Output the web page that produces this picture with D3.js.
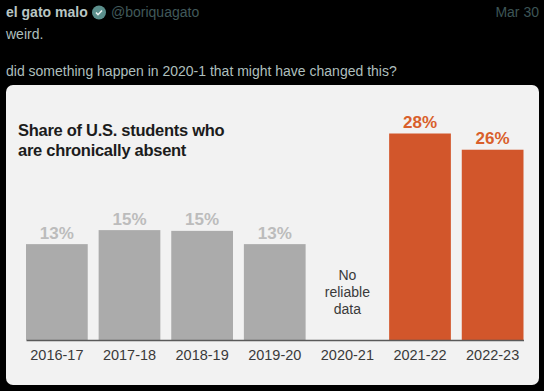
<!DOCTYPE html>
<html><head><meta charset="utf-8">
<script src="https://cdn.jsdelivr.net/npm/d3@7/dist/d3.min.js"></script>
<style>html,body{margin:0;padding:0;background:#000}svg{display:block}text{font-family:"Liberation Sans",Arial,sans-serif}</style>
</head><body><svg id="c" width="544" height="391"></svg>
<script>
const categories = ["2016-17","2017-18","2018-19","2019-20","2020-21","2021-22","2022-23"];
const values = [13, 14.9, 14.8, 13, null, 28, 25.8];
const highlighted = ["2021-22","2022-23"];
const noDataNote = ["No","reliable","data"];
const titleLines = ["Share of U.S. students who","are chronically absent"];
const tweetLines = ["weird.","did something happen in 2020-1 that might have changed this?"];

const svg = d3.select("#c");
const gray="#ababab", orange="#d2562b";

// tweet header
svg.append("text").attr("x",6).attr("y",17).attr("font-size",14).attr("font-weight",700).attr("fill","#b9c6c4").text("el gato malo");
const badge = svg.append("g").attr("transform","translate(99,12.5)");
badge.append("circle").attr("r",7).attr("fill","#5b8f8c");
badge.append("path").attr("d","M-3,0 L-1,2.2 L3,-2").attr("fill","none").attr("stroke","#eef4f3").attr("stroke-width",1.6);
svg.append("text").attr("x",111).attr("y",17).attr("font-size",14).attr("fill","#41595a").text("@boriquagato");
svg.append("text").attr("x",539).attr("y",17).attr("text-anchor","end").attr("font-size",14).attr("fill","#3d5556").text("Mar 30");
svg.append("text").attr("x",6).attr("y",39).attr("font-size",14).attr("fill","#aebfbd").text(tweetLines[0]);
svg.append("text").attr("x",6).attr("y",76).attr("font-size",14).attr("fill","#aebfbd").text(tweetLines[1]);

// card
svg.append("rect").attr("x",6).attr("y",85).attr("width",533).attr("height",300).attr("rx",7).attr("fill","#f2f2f2");

// title
svg.append("g").selectAll("text").data(titleLines).join("text")
  .attr("x",18).attr("y",(d,i)=>136+i*20).attr("font-size",16.5).attr("font-weight",700)
  .attr("letter-spacing",-0.28).attr("fill","#1c1c1c").text(d=>d);

// chart
const x = d3.scaleBand().domain(categories).range([26,523.5]).paddingInner(0.15).paddingOuter(0);
const y = d3.scaleLinear().domain([0,28]).range([340,133.5]);
const present = categories.map((c,i)=>({c,v:values[i]})).filter(d=>d.v!=null);
const isHi = d=>highlighted.includes(d.c);

svg.append("g").selectAll("rect").data(present).join("rect")
  .attr("x",d=>x(d.c)).attr("width",x.bandwidth())
  .attr("y",d=>y(d.v)).attr("height",d=>y(0)-y(d.v))
  .attr("fill",d=>isHi(d)?orange:gray);

svg.append("g").selectAll("text").data(present).join("text")
  .attr("x",d=>x(d.c)+x.bandwidth()/2).attr("y",d=>y(d.v)-5.5)
  .attr("text-anchor","middle").attr("font-size",17).attr("font-weight",700)
  .attr("fill",d=>isHi(d)?"#d95f2b":"#bcbcbc")
  .text(d=>Math.round(d.v)+"%");

const axis = d3.axisBottom(x).tickSize(0).tickPadding(10);
const ag = svg.append("g").attr("transform","translate(0,340)").call(axis);
ag.select(".domain").attr("stroke","#5a5a5a").attr("stroke-width",1.6);
ag.selectAll("text").attr("font-size",14.5).attr("fill","#3a3a3a").attr("font-family",'"Liberation Sans",Arial,sans-serif');

svg.append("g").selectAll("text").data(noDataNote).join("text")
  .attr("x",x("2020-21")+x.bandwidth()/2).attr("y",(d,i)=>280+i*17)
  .attr("text-anchor","middle").attr("font-size",14).attr("fill","#3a3a3a").text(d=>d);
</script></body></html>
